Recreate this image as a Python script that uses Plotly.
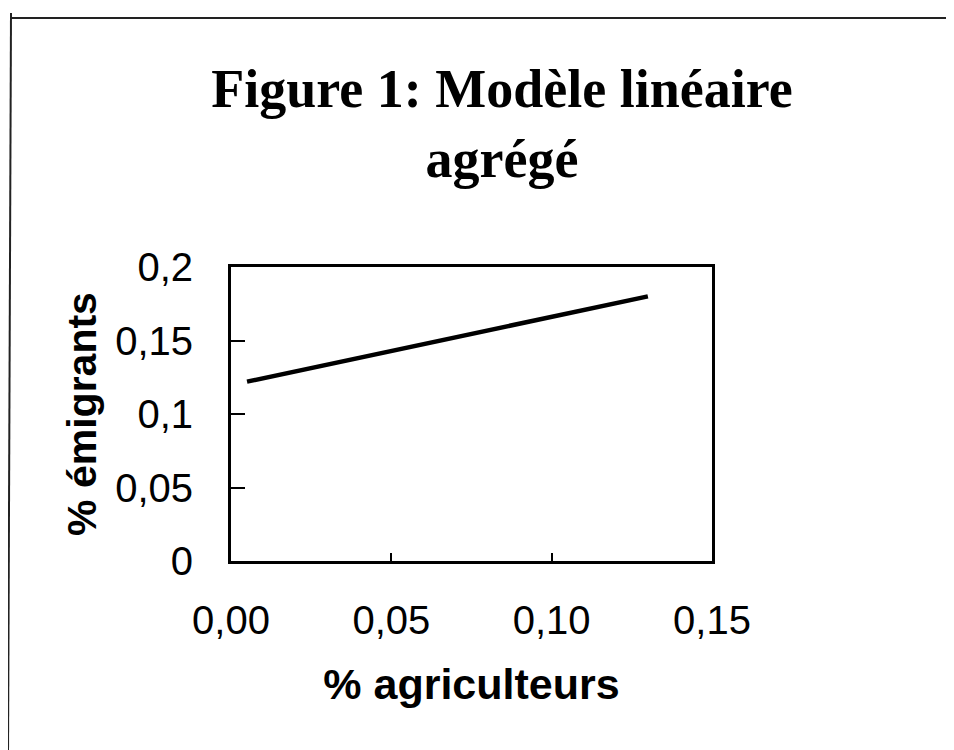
import plotly.graph_objects as go

# aggregated linear model: % farmers vs % emigrants
agriculteurs = [0.005, 0.13]
emigrants = [0.122, 0.18]

x_ticks = [0.0, 0.05, 0.10, 0.15]
x_labels = ["0,00", "0,05", "0,10", "0,15"]
y_ticks = [0, 0.05, 0.1, 0.15, 0.2]
y_labels = ["0", "0,05", "0,1", "0,15", "0,2"]

# page body has an 8px margin, so the plot box is placed 8px up/left
L, T, W, H = 223, 259, 481, 294

fig = go.Figure()
fig.add_trace(go.Scatter(
    x=agriculteurs, y=emigrants, mode="lines",
    line=dict(color="black", width=4.5),
    showlegend=False, hoverinfo="skip"))

fig.update_layout(
    width=954, height=750,
    margin=dict(l=L, r=954 - L - W, t=T, b=750 - T - H),
    paper_bgcolor="white", plot_bgcolor="white",
    font=dict(family="Liberation Sans, Arial, sans-serif", color="black"),
    title=dict(
        text="Figure 1: Modèle linéaire<br>agrégé",
        font=dict(family="Liberation Serif, Times New Roman, serif", size=54, color="black", weight="bold"),
        x=494 / 954, xanchor="center", xref="container",
        y=1 - 99 / 750, yanchor="top", yref="container"),
)

fig.update_xaxes(
    range=[0, 0.15], tickvals=x_ticks, ticktext=x_labels,
    ticks="inside", ticklen=8, tickwidth=1.5, tickcolor="black",
    tickfont=dict(size=40), ticklabelstandoff=22,
    showline=True, linecolor="black", linewidth=3, mirror=True,
    showgrid=False, zeroline=False,
    title=dict(text="% agriculteurs", font=dict(size=43, weight="bold"), standoff=28))

fig.update_yaxes(
    range=[0, 0.2], tickvals=y_ticks, ticktext=y_labels,
    ticks="inside", ticklen=14, tickwidth=1.5, tickcolor="black",
    tickfont=dict(size=40), ticklabelstandoff=27,
    showline=True, linecolor="black", linewidth=3, mirror=True,
    showgrid=False, zeroline=False,
    title=dict(text="% émigrants", font=dict(size=41, weight="bold"), standoff=6))

# scanned page frame (top and left edges only)
fig.add_shape(type="line", xref="paper", yref="paper",
              x0=(4 - L) / W, x1=(960 - L) / W,
              y0=(T + H - 10) / H, y1=(T + H - 10) / H,
              line=dict(color="#222", width=2))
fig.add_shape(type="line", xref="paper", yref="paper",
              x0=(3 - L) / W, x1=(0 - L) / W,
              y0=(T + H - 5) / H, y1=(T + H - 750) / H,
              line=dict(color="#222", width=2))

fig.write_html("out.html")
